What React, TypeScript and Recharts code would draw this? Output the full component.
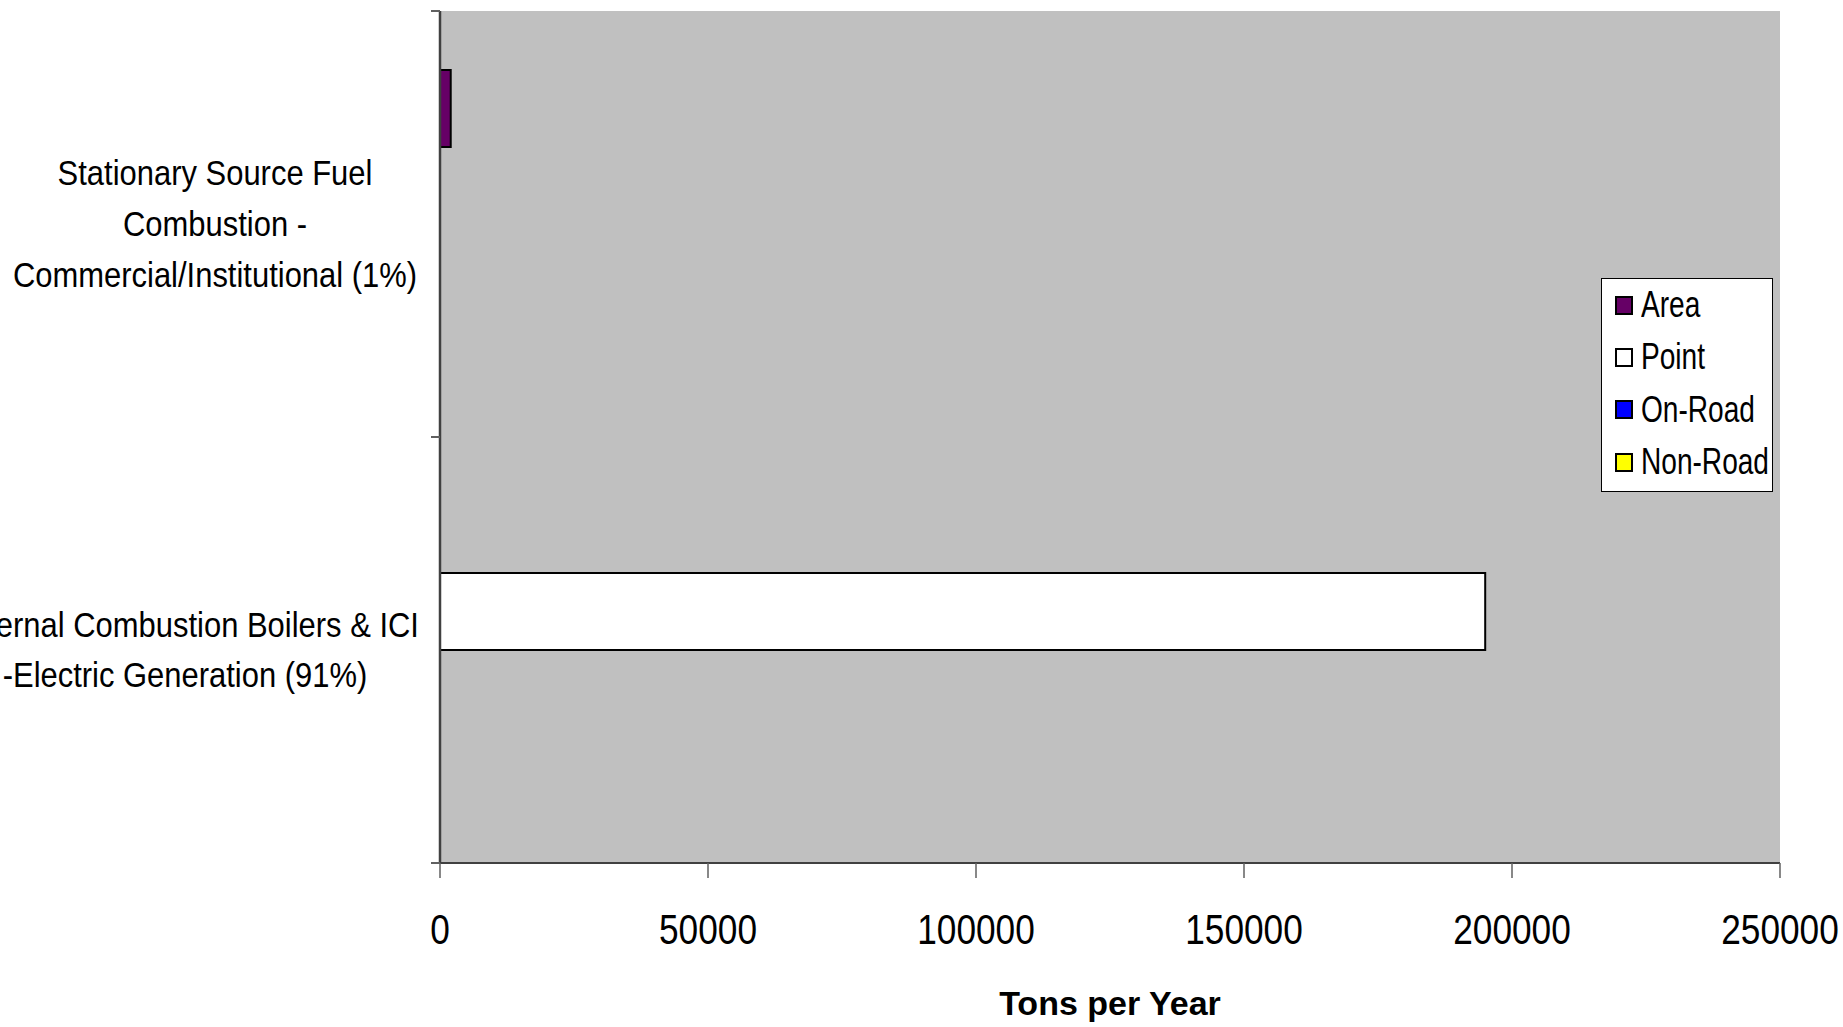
import React from 'react';
import { BarChart, Bar, XAxis, YAxis, CartesianGrid, Legend } from 'recharts';

const categories = [
  'Stationary Source Fuel Combustion - Commercial/Institutional (1%)',
  'External Combustion Boilers & ICI -Electric Generation (91%)',
];
const categoryLines = [
  ['Stationary Source Fuel', 'Combustion -', 'Commercial/Institutional (1%)'],
  ['External Combustion Boilers & ICI', '-Electric Generation (91%)'],
];
const areaValues = [2000, 0];
const pointValues = [0, 195000];
const onRoadValues = [0, 0];
const nonRoadValues = [0, 0];
const xTicks = [0, 50000, 100000, 150000, 200000, 250000];

const series = [
  { key: 'area', name: 'Area', color: '#660066' },
  { key: 'point', name: 'Point', color: '#FFFFFF' },
  { key: 'onRoad', name: 'On-Road', color: '#0000FF' },
  { key: 'nonRoad', name: 'Non-Road', color: '#FFFF00' },
];

const data = categories.map((name, i) => ({
  name,
  area: areaValues[i],
  point: pointValues[i],
  onRoad: onRoadValues[i],
  nonRoad: nonRoadValues[i],
}));

// no narrow font installed, so squeeze Liberation Sans horizontally
const SANS = "'Liberation Sans', Arial, sans-serif";
const SQUEEZE = 0.82;

// label blocks are right-aligned like Excel, lines centred inside the block
const labelCenterX = [215, 185];

const CategoryTick = (props: any) => {
  const { x, y, payload, index } = props;
  const lines = categoryLines[index] || [payload.value];
  const half = payload && typeof payload.offset === 'number' ? payload.offset : 0;
  const axisX = x + 10;
  const cx = labelCenterX[index] ?? x - 200;
  const lh = 51;
  return (
    <g>
      {half > 0 && (
        <>
          <line x1={axisX - 9} x2={axisX} y1={y - half} y2={y - half} stroke="#606060" strokeWidth={2} />
          {index === categories.length - 1 && (
            <line x1={axisX - 9} x2={axisX} y1={y + half} y2={y + half} stroke="#606060" strokeWidth={2} />
          )}
        </>
      )}
      <g transform={`translate(${cx},${y}) scale(0.86,1)`}>
        <text textAnchor="middle" fontFamily={SANS} fontSize={36} fill="#000">
          {lines.map((l: string, i: number) => (
            <tspan key={i} x={0} y={12 + (i - (lines.length - 1) / 2) * lh}>
              {l}
            </tspan>
          ))}
        </text>
      </g>
    </g>
  );
};

const ValueTick = (props: any) => {
  const { x, y, payload } = props;
  return (
    <g transform={`translate(${x},${y}) scale(${SQUEEZE},1)`}>
      <text textAnchor="middle" fontFamily={SANS} fontSize={43} fill="#000" y={31}>
        {payload.value}
      </text>
    </g>
  );
};

const LegendBox = () => (
  <div
    style={{
      width: 172,
      height: 214,
      boxSizing: 'border-box',
      border: '1px solid #000',
      background: '#fff',
      paddingTop: 0,
    }}
  >
    {series.map((s) => (
      <div key={s.key} style={{ height: 52.3, display: 'flex', alignItems: 'center', whiteSpace: 'nowrap' }}>
        <div
          style={{
            width: 18,
            height: 19,
            flex: 'none',
            boxSizing: 'border-box',
            border: '2px solid #000',
            background: s.color,
            marginLeft: 13,
            marginRight: 8,
          }}
        />
        <span
          style={{
            fontFamily: SANS,
            fontSize: 36,
            color: '#000',
            lineHeight: 1,
            display: 'inline-block',
            transform: 'scaleX(0.78)',
            transformOrigin: 'left center',
          }}
        >
          {s.name}
        </span>
      </div>
    ))}
  </div>
);

export default function App() {
  return (
    <div style={{ position: 'absolute', left: 0, top: 0, width: 1843, height: 1027, background: '#fff' }}>
      <BarChart
        width={1843}
        height={1027}
        data={data}
        layout="vertical"
        margin={{ top: 11, right: 63, left: 0, bottom: 0 }}
        barCategoryGap="13.85%"
        barGap={0}
      >
        <CartesianGrid fill="#C0C0C0" horizontal={false} vertical={false} />
        <XAxis
          type="number"
          domain={[0, 250000]}
          ticks={xTicks}
          interval={0}
          height={164}
          tickSize={15}
          tickMargin={35}
          axisLine={{ stroke: '#404040', strokeWidth: 2 }}
          tickLine={{ stroke: '#606060', strokeWidth: 1.5 }}
          tick={<ValueTick />}
          label={{
            value: 'Tons per Year',
            position: 'insideBottom',
            offset: 12,
            style: { fontSize: 34, fontWeight: 'bold', fontFamily: SANS, fill: '#000' },
          }}
        />
        <XAxis
          xAxisId="top"
          orientation="top"
          type="number"
          domain={[0, 250000]}
          height={0}
          tick={false}
          tickLine={false}
          axisLine={{ stroke: '#808080', strokeWidth: 2 }}
        />
        <YAxis
          type="category"
          dataKey="name"
          width={440}
          tickLine={false}
          tickSize={0}
          tickMargin={10}
          interval={0}
          axisLine={{ stroke: '#404040', strokeWidth: 2.5 }}
          tick={<CategoryTick />}
        />
        <YAxis
          yAxisId="right"
          orientation="right"
          type="category"
          dataKey="name"
          width={0}
          tick={false}
          tickLine={false}
          axisLine={{ stroke: '#808080', strokeWidth: 2 }}
        />
        <Legend
          layout="vertical"
          align="center"
          verticalAlign="middle"
          content={<LegendBox />}
          wrapperStyle={{ left: 1601, top: 278, width: 172, height: 214 }}
        />
        {series.map((s) => (
          <Bar
            key={s.key}
            dataKey={s.key}
            name={s.name}
            fill={s.color}
            stroke="#000"
            strokeWidth={2}
            isAnimationActive={false}
          />
        ))}
      </BarChart>
    </div>
  );
}
